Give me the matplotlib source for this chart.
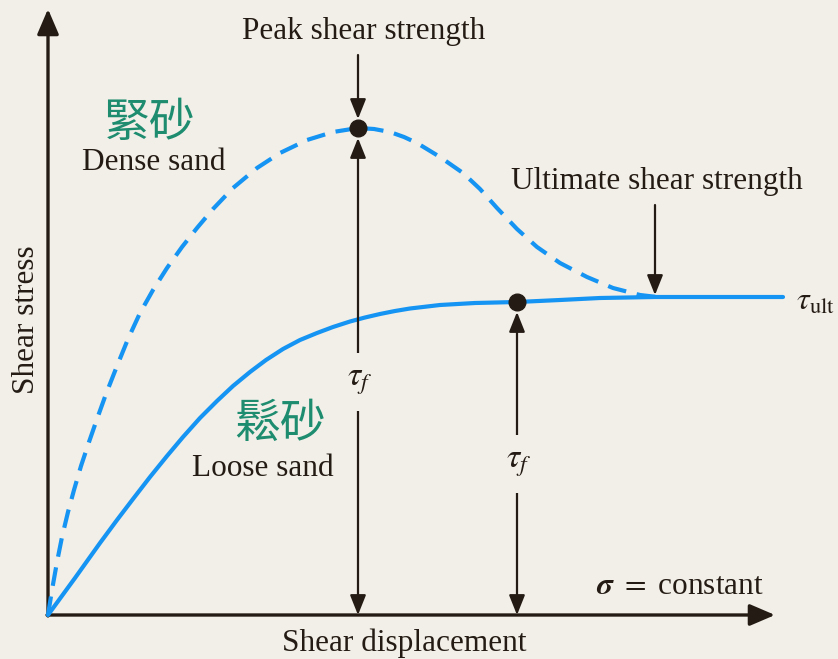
import matplotlib.pyplot as plt

plt.rcParams['font.family'] = ['Liberation Serif', 'DejaVu Serif']
plt.rcParams['mathtext.fontset'] = 'stix'

BG = '#f2efe8'
INK = '#241c14'
BLUE = '#1594f3'
TEAL = '#1d8c6f'

# shear displacement / shear stress, origin at the axes corner
dense_x = [0, 4, 9, 14, 20, 26, 33, 41, 49, 58, 69, 80, 92, 105, 119, 134, 149,
           165, 185, 209, 232, 259, 285, 310, 326, 342, 356, 369, 392, 415, 432,
           449, 469, 489, 512, 539, 565, 592, 609]
dense_y = [0, 25, 53, 78, 103, 125, 149, 173, 196, 221, 249, 276, 302, 325, 347,
           368, 387, 406, 427, 447, 462, 475, 483, 487, 486, 483, 478, 472, 458,
           442, 426, 407, 386, 368, 352, 338, 327, 320, 318]

loose_x = [0, 27, 52, 69, 85, 102, 119, 135, 152, 169, 185, 202, 218, 235, 252,
           269, 285, 302, 317, 332, 347, 362, 392, 427, 469, 512, 552, 607, 735]
loose_y = [0, 37, 72, 95, 116, 138, 159, 178, 197, 214, 229, 243, 255, 266, 275,
           282, 288, 293.5, 297.5, 301, 304, 306.5, 310, 312, 313, 315, 317, 318, 318]

peak = (310, 487)
loose_fail = (469, 313)
ult = (607, 318)

fig = plt.figure(figsize=(8.38, 6.59), dpi=100, facecolor=BG)
ax = fig.add_axes([0, 0, 1, 1])
ax.set_facecolor(BG)
ax.set_xlim(-48, 790)
ax.set_ylim(-44, 615)
ax.axis('off')

arrow = dict(arrowstyle='-|>,head_length=0.55,head_width=0.22', color=INK, lw=1.6,
             mutation_scale=22, shrinkA=0, shrinkB=0)
both = dict(arrow, arrowstyle='<|-|>,head_length=0.55,head_width=0.22')
axis_arrow = dict(arrowstyle='-|>,head_length=0.7,head_width=0.3', color=INK, lw=2.4,
                  mutation_scale=22, shrinkA=0, shrinkB=0)

# axes
ax.annotate('', xy=(0, 606), xytext=(0, -1), arrowprops=axis_arrow)
ax.annotate('', xy=(727, 0), xytext=(-1, 0), arrowprops=axis_arrow)

# curves
ax.plot(dense_x, dense_y, color=BLUE, lw=3.0, ls=(0, (4.5, 2.6)), dash_capstyle='butt',
        solid_joinstyle='round', zorder=3)
ax.plot(loose_x, loose_y, color=BLUE, lw=3.0, solid_capstyle='round',
        solid_joinstyle='round', zorder=3)

ax.plot(*peak, 'o', color=INK, ms=12, zorder=5)
ax.plot(*loose_fail, 'o', color=INK, ms=12, zorder=5)

# strength arrows
ax.annotate('', xy=(peak[0], peak[1] + 9), xytext=(peak[0], 560), arrowprops=arrow)
ax.annotate('', xy=(peak[0], peak[1] - 10), xytext=(peak[0], 0), arrowprops=both)
ax.annotate('', xy=(loose_fail[0], loose_fail[1] - 10), xytext=(loose_fail[0], 0),
            arrowprops=both)
ax.annotate('', xy=(ult[0], ult[1] + 2), xytext=(ult[0], 410), arrowprops=arrow)

tau_box = dict(boxstyle='square,pad=0.4', fc=BG, ec='none')
ax.text(peak[0] + 2, 233, r'$\tau_f$', fontsize=24, ha='center', va='center',
        color=INK, bbox=tau_box, zorder=4)
ax.text(loose_fail[0] + 2, 151, r'$\tau_f$', fontsize=24, ha='center', va='center',
        color=INK, bbox=tau_box, zorder=4)
ax.text(748, 313, r'$\tau_{\mathrm{ult}}$', fontsize=23, ha='left', va='center', color=INK)

ax.text(316, 583, 'Peak shear strength', fontsize=22.5, ha='center', va='center', color=INK)
ax.text(609, 433, 'Ultimate shear strength', fontsize=22.5, ha='center', va='center', color=INK)
ax.text(106, 452, 'Dense sand', fontsize=22.5, ha='center', va='center', color=INK)
ax.text(215, 146, 'Loose sand', fontsize=22.5, ha='center', va='center', color=INK)
ax.text(102, 492, '緊砂', fontsize=33, ha='center', va='center', color=TEAL,
        family=['Noto Sans CJK TC', 'DejaVu Sans'])
ax.text(232, 191, '鬆砂', fontsize=33, ha='center', va='center', color=TEAL,
        family=['Noto Sans CJK TC', 'DejaVu Sans'])

ax.text(716, 28, r'$\boldsymbol{\sigma}$ $=$ constant', fontsize=22.5, ha='right',
        va='center', color=INK)
ax.text(356, -28, 'Shear displacement', fontsize=22.5, ha='center', va='center', color=INK)
ax.text(-21, 295, 'Shear stress', fontsize=22.5, ha='center', va='center', rotation=90,
        color=INK)

fig.savefig('out.png', dpi=100, facecolor=BG)
